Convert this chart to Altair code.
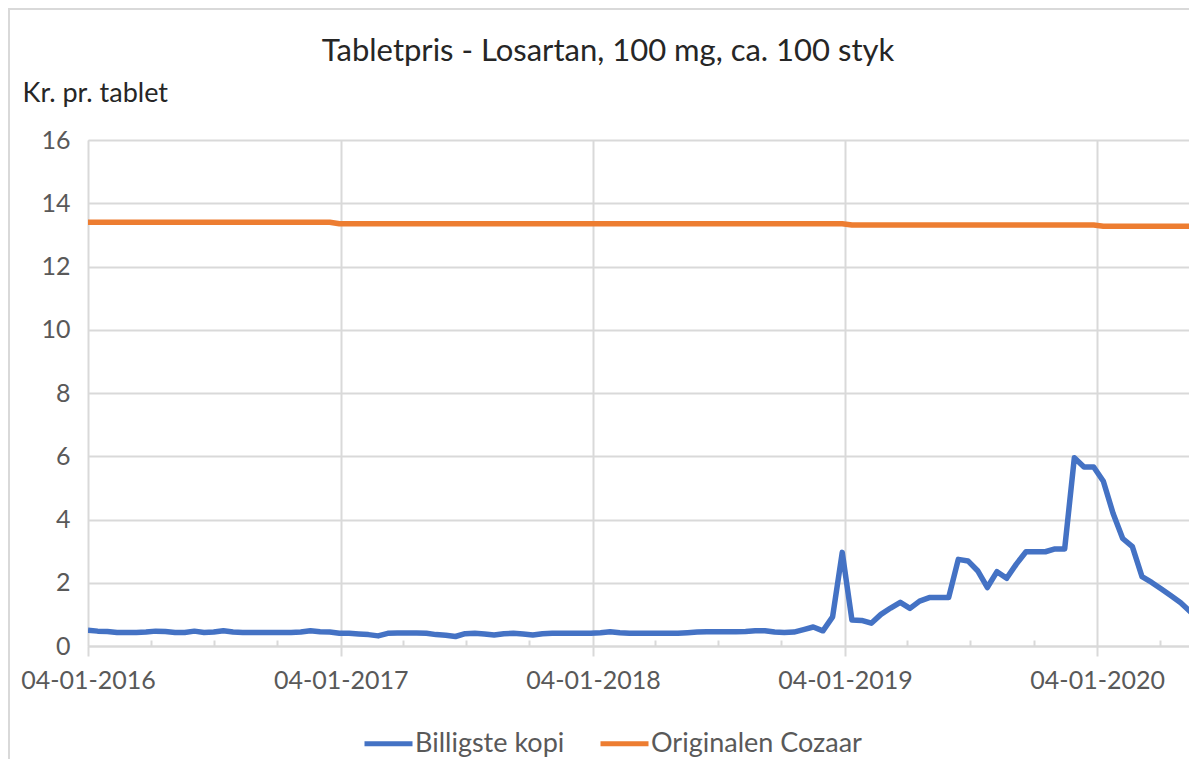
import altair as alt
import pandas as pd

# ---------------- data ----------------
start_date = "2016-01-04"
n_points = 116
dates = pd.date_range(start_date, periods=n_points, freq="14D").strftime("%Y-%m-%d").tolist()

series_names = ["Billigste kopi", "Originalen Cozaar"]
series_colors = ["#4472C4", "#ED7D31"]

billigste_kopi = [
    0.50, 0.47, 0.46, 0.43, 0.43, 0.43, 0.44, 0.47, 0.46, 0.43,
    0.43, 0.47, 0.43, 0.44, 0.48, 0.44, 0.43, 0.43, 0.43, 0.43,
    0.43, 0.43, 0.44, 0.48, 0.45, 0.44, 0.40, 0.40, 0.38, 0.36,
    0.32, 0.40, 0.41, 0.41, 0.41, 0.40, 0.36, 0.34, 0.30, 0.39,
    0.40, 0.38, 0.35, 0.39, 0.40, 0.38, 0.35, 0.39, 0.40, 0.40,
    0.40, 0.40, 0.40, 0.42, 0.45, 0.42, 0.40, 0.40, 0.40, 0.40,
    0.40, 0.40, 0.42, 0.44, 0.45, 0.45, 0.45, 0.45, 0.46, 0.48,
    0.48, 0.44, 0.43, 0.44, 0.52, 0.60, 0.48, 0.92, 2.96, 0.82,
    0.81, 0.72, 1.00, 1.20, 1.38, 1.19, 1.42, 1.53, 1.53, 1.53,
    2.74, 2.69, 2.38, 1.85, 2.35, 2.14, 2.59, 2.98, 2.98, 2.98,
    3.07, 3.07, 5.95, 5.66, 5.66, 5.21, 4.20, 3.40, 3.14, 2.19,
    2.01, 1.80, 1.59, 1.37, 1.08, 0.77,
]

# Original price: level and number of consecutive observations at that level
original_levels = [13.40, 13.35, 13.31, 13.27]
original_counts = [26, 53, 26, 11]
originalen_cozaar = []
for lvl, cnt in zip(original_levels, original_counts):
    originalen_cozaar += [lvl] * cnt

year_ticks = [2016, 2017, 2018, 2019, 2020]
quarter_ticks = [(y, m) for y in range(2016, 2021) for m in (4, 7, 10)]
y_ticks = [0, 2, 4, 6, 8, 10, 12, 14, 16]

title_text = "Tabletpris - Losartan, 100 mg, ca. 100 styk"
y_title = "Kr. pr. tablet"

# ---------------- table ----------------
df = pd.DataFrame({
    "dato": dates + dates,
    "pris": billigste_kopi + originalen_cozaar,
    "serie": [series_names[0]] * n_points + [series_names[1]] * n_points,
})
title_df = pd.DataFrame({"tekst": [title_text]})

W, H = 1101, 506
FONT = "Lato"
GRID = "#d9d9d9"

x_domain = [alt.DateTime(year=2016, month=1, date=4, utc=True),
            alt.DateTime(year=2020, month=5, date=16, utc=True)]
xscale = alt.Scale(type="utc", domain=x_domain, nice=False)
yscale = alt.Scale(domain=[0, 16], nice=False, zero=True)

year_vals = [alt.DateTime(year=y, month=1, date=4, utc=True) for y in year_ticks]
quarter_vals = [alt.DateTime(year=y, month=m, date=4, utc=True) for (y, m) in quarter_ticks]

y_axis = alt.Axis(
    values=y_ticks, grid=True, gridColor=GRID, gridWidth=2,
    domain=False, ticks=False, labelPadding=18,
    labelFont=FONT, labelFontSize=25, labelColor="#595959",
    title=y_title, titleAngle=0, titleAlign="left", titleBaseline="alphabetic",
    titleX=-66, titleY=-39, titleFont=FONT, titleFontSize=27,
    titleFontWeight="normal", titleColor="#262626",
)

lines = alt.Chart(df).mark_line(strokeWidth=5.5, clip=True, strokeJoin="round").encode(
    x=alt.X("dato:T", scale=xscale, axis=alt.Axis(
        orient="bottom", values=year_vals,
        labelExpr="utcFormat(datum.value, '%d-%m-%Y')",
        grid=True, gridColor=GRID, gridWidth=2,
        ticks=True, tickSize=10, tickColor=GRID, tickWidth=2,
        domain=True, domainColor=GRID, domainWidth=2,
        labelFont=FONT, labelFontSize=25, labelColor="#595959",
        labelPadding=12, labelOverlap=False, labelFlush=False, title=None)),
    y=alt.Y("pris:Q", scale=yscale, axis=y_axis),
    color=alt.Color("serie:N", scale=alt.Scale(domain=series_names, range=series_colors),
                    legend=alt.Legend(
                        orient="none", legendX=274, legendY=577, direction="horizontal",
                        title=None, symbolType="stroke", symbolSize=2304,
                        symbolStrokeWidth=5, labelFont=FONT, labelFontSize=27,
                        labelColor="#595959", labelOffset=0, columnPadding=25,
                        labelLimit=400, padding=0)),
)

minor = alt.Chart(df).mark_line(strokeOpacity=0).encode(
    x=alt.X("dato:T", scale=xscale, axis=alt.Axis(
        orient="bottom", values=quarter_vals, labels=False, grid=False,
        domain=False, ticks=True, tickSize=6, tickColor=GRID, tickWidth=2,
        offset=-6, title=None)),
    y=alt.Y("pris:Q", scale=yscale, axis=y_axis),
    detail="serie:N",
)

title_mark = alt.Chart(title_df).mark_text(
    font=FONT, fontSize=31, color="#262626", align="center", baseline="alphabetic"
).encode(text="tekst:N", x=alt.value(520), y=alt.value(-79))

frame_left = alt.Chart(title_df).mark_rule(color=GRID, strokeWidth=2).encode(
    x=alt.value(-79), y=alt.value(-131), y2=alt.value(H + 200))
frame_top = alt.Chart(title_df).mark_rule(color=GRID, strokeWidth=2).encode(
    x=alt.value(-80), x2=alt.value(W + 20), y=alt.value(-131))

chart = alt.layer(lines, minor, title_mark, frame_left, frame_top).resolve_axis(
    x="independent"
).properties(
    width=W, height=H,
    padding={"left": 80, "top": 132, "right": 0, "bottom": 113},
    autosize=alt.AutoSizeParams(type="none"),
).configure_view(stroke=None).configure(background="white")

chart.save("out.html", embed_options={"renderer": "svg", "actions": False})
